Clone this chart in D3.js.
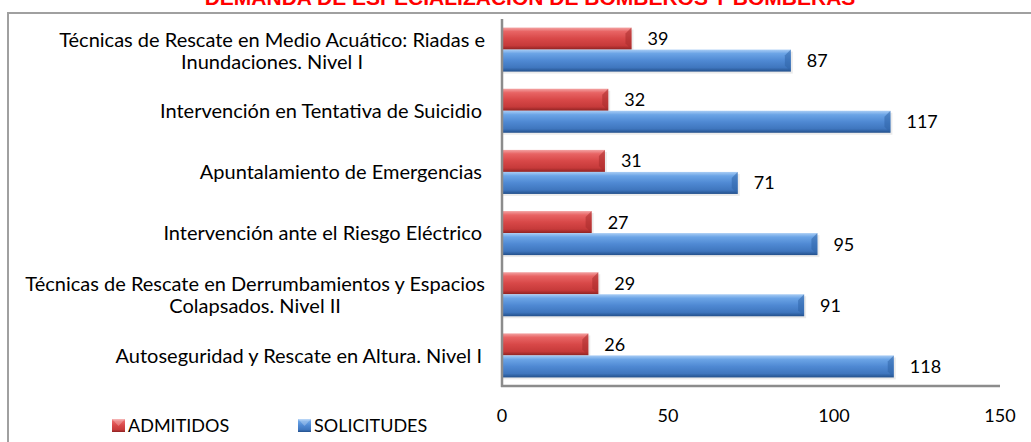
<!DOCTYPE html>
<html>
<head>
<meta charset="utf-8">
<script src="https://cdn.jsdelivr.net/npm/d3@7"></script>
<style>
  body { margin: 0; background: #fff; }
  svg { display: block; }
</style>
</head>
<body>
<div id="chart"></div>
<script>
// data, top to bottom as shown
const categories = [
  ["Técnicas de Rescate en Medio Acuático: Riadas e", "Inundaciones. Nivel I"],
  ["Intervención en Tentativa de Suicidio"],
  ["Apuntalamiento de Emergencias"],
  ["Intervención ante el Riesgo Eléctrico"],
  ["Técnicas de Rescate en Derrumbamientos y Espacios", "Colapsados. Nivel II"],
  ["Autoseguridad y Rescate en Altura. Nivel I"]
];
const admitidos = [39, 32, 31, 27, 29, 26];
const solicitudes = [87, 117, 71, 95, 91, 118];
const seriesNames = ["ADMITIDOS", "SOLICITUDES"];
const xTicks = [0, 50, 100, 150];
const title = "DEMANDA DE ESPECIALIZACIÓN DE BOMBEROS Y BOMBERAS";

const width = 1031, height = 442;
const font = "Lato, 'Open Sans', sans-serif";

const svg = d3.select("#chart").append("svg")
  .attr("width", width)
  .attr("height", height);

const defs = svg.append("defs");
const grads = [
  { id: "gRed", stops: ["#f3a3a3", "#e86464", "#d84848", "#c63a3a", "#8e2222"] },
  { id: "gBlue", stops: ["#a9cdf5", "#6ba4e6", "#4f89d3", "#3f76be", "#23508b"] }
];
grads.forEach(g => {
  const lg = defs.append("linearGradient").attr("id", g.id)
    .attr("x1", 0).attr("y1", 0).attr("x2", 0).attr("y2", 1);
  [0, 0.18, 0.5, 0.82, 1].forEach((o, i) =>
    lg.append("stop").attr("offset", o).attr("stop-color", g.stops[i]));
});
const fills = ["url(#gRed)", "url(#gBlue)"];

// outer frame
svg.append("rect")
  .attr("x", 8).attr("y", 13)
  .attr("width", 1040).attr("height", 450)
  .attr("fill", "none")
  .attr("stroke", "#a0a0a0")
  .attr("stroke-width", 2);

// title (cut by top edge)
svg.append("text")
  .attr("x", 530).attr("y", 5)
  .attr("text-anchor", "middle")
  .attr("font-family", "'Liberation Sans', Arial, sans-serif")
  .attr("font-weight", "bold")
  .attr("font-size", 21)
  .attr("fill", "#ff0000")
  .text(title);

const x = d3.scaleLinear().domain([0, 150]).range([502, 1000]);
const y = d3.scaleBand()
  .domain(d3.range(categories.length))
  .range([19, 386])
  .paddingInner(0.28)
  .paddingOuter(0.14);
const ySub = d3.scaleBand().domain([0, 1]).range([0, y.bandwidth()]);

const rows = categories.map((c, i) => ({ i, vals: [admitidos[i], solicitudes[i]] }));

const bars = svg.append("g");
rows.forEach(r => {
  r.vals.forEach((v, s) => {
    const by = y(r.i) + ySub(s);
    const bh = ySub.bandwidth();
    // soft shadow
    bars.append("rect")
      .attr("x", x(0)).attr("y", by + 2)
      .attr("width", x(v) - x(0) + 2).attr("height", bh)
      .attr("fill", "#000").attr("opacity", 0.08);
    bars.append("rect")
      .attr("x", x(0)).attr("y", by)
      .attr("width", x(v) - x(0)).attr("height", bh)
      .attr("fill", fills[s]);
    // bevel at the bar end
    const ex = x(v), b = 6;
    bars.append("path")
      .attr("d", `M${ex},${by} L${ex - b},${by + b} L${ex - b},${by + bh - b} L${ex},${by + bh} Z`)
      .attr("fill", s === 0 ? "#a82c2c" : "#2f64a8").attr("opacity", 0.55);
    bars.append("text")
      .attr("x", x(v) + 16)
      .attr("y", by + bh / 2)
      .attr("dy", "0.36em")
      .attr("font-family", font)
      .attr("font-size", 18)
      .attr("fill", "#000")
      .text(v);
  });
});

// axes lines
svg.append("line")
  .attr("x1", x(0)).attr("x2", x(0))
  .attr("y1", 19).attr("y2", 387)
  .attr("stroke", "#8c8c8c").attr("stroke-width", 2.5);
svg.append("line")
  .attr("x1", x(0) - 1).attr("x2", x(150))
  .attr("y1", 386).attr("y2", 386)
  .attr("stroke", "#8c8c8c").attr("stroke-width", 2.5);

// x tick labels
svg.append("g").selectAll("text")
  .data(xTicks).join("text")
  .attr("x", d => x(d))
  .attr("y", 422)
  .attr("text-anchor", "middle")
  .attr("font-family", font)
  .attr("font-size", 18)
  .attr("fill", "#000")
  .text(d => d);

// category labels: block right aligned, wrapped lines centred in the block
const labelRight = 482, blockRight = 485;
const lg = svg.append("g")
  .attr("font-family", font)
  .attr("font-size", 20)
  .attr("fill", "#000");
categories.forEach((lines, i) => {
  const cy = y(i) + y.bandwidth() / 2;
  const lh = 22;
  const multi = lines.length > 1;
  const texts = lines.map((l, k) => lg.append("text")
    .attr("y", cy + (multi ? 1 : 0) + (k - (lines.length - 1) / 2) * lh)
    .attr("dy", "0.36em")
    .attr("text-anchor", multi ? "middle" : "end")
    .text(l));
  if (multi) {
    const maxW = d3.max(texts, t => t.node().getComputedTextLength());
    texts.forEach(t => t.attr("x", blockRight - maxW / 2));
  } else {
    texts.forEach(t => t.attr("x", labelRight));
  }
});

// legend
const legend = [{ x: 112, name: seriesNames[0], s: 0 }, { x: 298, name: seriesNames[1], s: 1 }];
legend.forEach(d => {
  svg.append("rect")
    .attr("x", d.x).attr("y", 419)
    .attr("width", 13).attr("height", 13)
    .attr("fill", fills[d.s]);
  svg.append("path")
    .attr("d", `M${d.x},${419} L${d.x + 6.5},${426} L${d.x + 13},${419} Z`)
    .attr("fill", "#fff").attr("opacity", 0.25);
  svg.append("text")
    .attr("x", d.x + 16).attr("y", 425.5)
    .attr("dy", "0.36em")
    .attr("font-family", font)
    .attr("font-size", 18)
    .attr("fill", "#000")
    .text(d.name);
});
</script>
</body>
</html>
